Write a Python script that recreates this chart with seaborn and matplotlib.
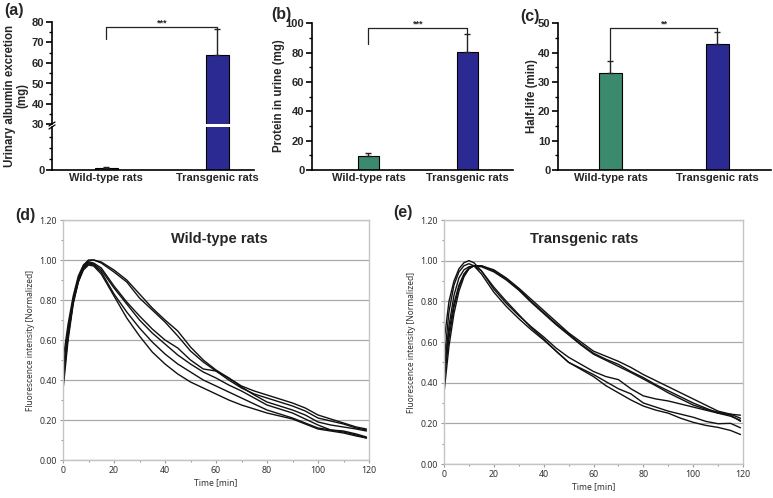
import numpy as np
import pandas as pd
import matplotlib
matplotlib.use("Agg")
import matplotlib.pyplot as plt
import seaborn as sns

# Bar chart data (a)-(c)
groups = ["Wild-type rats", "Transgenic rats"]
bar_colors = ["#3b8a6e", "#2b2a93"]

albumin_mean = [0.4, 64.0]
albumin_err = [0.2, 12.5]
protein_mean = [9.5, 80.7]
protein_err = [2.3, 11.8]
halflife_mean = [33.0, 43.0]
halflife_err = [4.3, 4.0]

# significance brackets: left leg, top, right leg, label
albumin_sig = [71.7, 77.5, 76.5, "***"]
protein_sig = [85.7, 96.6, 92.5, "***"]
halflife_sig = [37.5, 48.3, 47.0, "**"]

# Fluorescence curves (d), (e)
time_min = [0, 2, 4, 6, 8, 10, 12, 15, 20, 25, 30, 35, 40, 45, 50, 55, 60,
            65, 70, 75, 80, 85, 90, 95, 100, 105, 110, 115, 119]

wt_1 = [0.45, 0.66, 0.80, 0.91, 0.97, 0.995, 1.00, 0.99, 0.95, 0.90, 0.83, 0.76, 0.70, 0.645, 0.565,
        0.50, 0.45, 0.41, 0.37, 0.345, 0.325, 0.305, 0.285, 0.26, 0.225, 0.205, 0.185, 0.165, 0.155]
wt_2 = [0.50, 0.68, 0.82, 0.92, 0.975, 1.00, 1.00, 0.985, 0.94, 0.89, 0.81, 0.75, 0.69, 0.62, 0.545,
        0.49, 0.445, 0.40, 0.36, 0.33, 0.31, 0.29, 0.27, 0.245, 0.21, 0.195, 0.18, 0.16, 0.15]
wt_3 = [0.38, 0.62, 0.79, 0.90, 0.965, 0.99, 0.985, 0.96, 0.87, 0.79, 0.72, 0.655, 0.60, 0.56, 0.50,
        0.455, 0.445, 0.41, 0.365, 0.325, 0.29, 0.27, 0.25, 0.225, 0.19, 0.175, 0.165, 0.155, 0.145]
wt_4 = [0.35, 0.60, 0.78, 0.89, 0.96, 0.985, 0.98, 0.95, 0.86, 0.78, 0.70, 0.635, 0.58, 0.525, 0.48,
        0.44, 0.41, 0.375, 0.345, 0.31, 0.275, 0.255, 0.235, 0.205, 0.175, 0.15, 0.145, 0.13, 0.115]
wt_5 = [0.42, 0.63, 0.80, 0.90, 0.955, 0.98, 0.975, 0.94, 0.83, 0.74, 0.66, 0.59, 0.53, 0.48, 0.44,
        0.40, 0.37, 0.34, 0.31, 0.28, 0.25, 0.23, 0.21, 0.185, 0.16, 0.15, 0.14, 0.125, 0.11]
wt_6 = [0.40, 0.62, 0.79, 0.89, 0.95, 0.975, 0.97, 0.93, 0.82, 0.71, 0.62, 0.54, 0.48, 0.43, 0.39,
        0.36, 0.33, 0.30, 0.275, 0.255, 0.235, 0.22, 0.205, 0.18, 0.155, 0.145, 0.135, 0.12, 0.11]

tg_1 = [0.60, 0.80, 0.90, 0.96, 0.99, 1.00, 0.99, 0.95, 0.86, 0.79, 0.73, 0.675, 0.625, 0.57, 0.525,
        0.49, 0.455, 0.43, 0.415, 0.37, 0.335, 0.32, 0.31, 0.295, 0.28, 0.265, 0.25, 0.245, 0.24]
tg_2 = [0.50, 0.75, 0.88, 0.945, 0.975, 0.985, 0.975, 0.935, 0.845, 0.775, 0.715, 0.66, 0.61, 0.555, 0.50,
        0.47, 0.44, 0.405, 0.37, 0.345, 0.30, 0.28, 0.26, 0.245, 0.23, 0.21, 0.198, 0.20, 0.178]
tg_3 = [0.45, 0.68, 0.83, 0.915, 0.955, 0.97, 0.975, 0.95, 0.87, 0.80, 0.735, 0.67, 0.615, 0.555, 0.50,
        0.465, 0.43, 0.385, 0.35, 0.315, 0.285, 0.265, 0.25, 0.225, 0.205, 0.19, 0.18, 0.165, 0.145]
tg_4 = [0.35, 0.58, 0.74, 0.85, 0.92, 0.96, 0.975, 0.975, 0.955, 0.915, 0.865, 0.81, 0.755, 0.70, 0.645,
        0.60, 0.555, 0.53, 0.505, 0.475, 0.44, 0.41, 0.38, 0.35, 0.32, 0.29, 0.26, 0.245, 0.225]
tg_5 = [0.40, 0.62, 0.77, 0.87, 0.93, 0.96, 0.975, 0.975, 0.95, 0.91, 0.86, 0.80, 0.745, 0.69, 0.64,
        0.59, 0.545, 0.515, 0.49, 0.455, 0.425, 0.39, 0.36, 0.33, 0.30, 0.275, 0.25, 0.235, 0.215]
tg_6 = [0.45, 0.65, 0.79, 0.88, 0.935, 0.965, 0.975, 0.97, 0.945, 0.905, 0.855, 0.795, 0.74, 0.685, 0.635,
        0.585, 0.54, 0.51, 0.48, 0.45, 0.418, 0.385, 0.35, 0.32, 0.29, 0.27, 0.255, 0.24, 0.21]

wt_curves = [wt_1, wt_2, wt_3, wt_4, wt_5, wt_6]
tg_curves = [tg_1, tg_2, tg_3, tg_4, tg_5, tg_6]

sns.set_theme(style="white")
plt.rcParams["font.family"] = ["Liberation Sans", "DejaVu Sans"]

W, H = 773, 498
fig = plt.figure(figsize=(W / 100, H / 100), dpi=100)


def box(x0, y0, x1, y1):
    # pixel box (top-left origin) -> figure fraction rect
    return [x0 / W, 1 - y1 / H, (x1 - x0) / W, (y1 - y0) / H]


def draw_bars(ax, means, errs):
    df = pd.DataFrame({"group": groups, "value": means})
    sns.barplot(data=df, x="group", y="value", hue="group", palette=bar_colors,
                saturation=1, width=0.21, edgecolor="black", linewidth=0.8,
                errorbar=None, legend=False, ax=ax)
    ax.errorbar([0, 1], means, yerr=[[0, 0], errs], fmt="none", ecolor="#222222",
                elinewidth=1.0, capsize=2.5, capthick=1.0, zorder=1)


def style_bar_ax(ax):
    sns.despine(ax=ax)
    for s in ["left", "bottom"]:
        ax.spines[s].set_linewidth(1.2)
        ax.spines[s].set_color("black")
    ax.tick_params(axis="y", which="major", left=True, direction="out", length=4,
                   width=1.2, labelsize=8, pad=1.5, color="black")
    ax.tick_params(axis="y", which="minor", left=True, direction="out", length=2,
                   width=1.0, color="black")
    ax.tick_params(axis="x", length=0, labelsize=8, pad=2)
    ax.set_xlabel("")
    ax.set_ylabel("")


def bold_ticks(ax):
    for lab in ax.get_xticklabels() + ax.get_yticklabels():
        lab.set_fontweight("bold")


def bracket(ax, sig):
    y_left, y_top, y_right, label = sig
    ax.plot([0, 0, 1, 1], [y_left, y_top, y_top, y_right], color="#222222",
            lw=0.9, clip_on=False)
    ax.text(0.5, y_top, label, ha="center", va="bottom", fontsize=6.5,
            fontweight="bold", clip_on=False)


# (a) broken axis
ax_a_top = fig.add_axes(box(52, 22, 254, 124.5))
ax_a_bot = fig.add_axes(box(52, 126.5, 254, 170))
for ax in (ax_a_top, ax_a_bot):
    draw_bars(ax, albumin_mean, albumin_err)
    style_bar_ax(ax)
    ax.set_xlim(-0.49, 1.33)
ax_a_top.set_ylim(30, 80)
ax_a_top.set_yticks(range(30, 81, 10))
ax_a_top.set_yticks(range(35, 80, 10), minor=True)
ax_a_top.spines["bottom"].set_visible(False)
ax_a_top.set_xticks([])
ax_a_bot.set_ylim(0, 10)
ax_a_bot.set_yticks([0])
ax_a_bot.set_yticks([2.5, 5, 7.5], minor=True)
bold_ticks(ax_a_top)
bold_ticks(ax_a_bot)
bracket(ax_a_top, albumin_sig)
# break marks on the y axis
for dy in (-1.5, 1.5):
    fig.add_artist(plt.Line2D([49 / W, 55 / W], [1 - (125.5 + dy + 2) / H, 1 - (125.5 + dy - 2) / H],
                              color="black", lw=0.9))
fig.text(16 / W, 1 - 96 / H, "Urinary albumin excretion\n(mg)", rotation=90, ha="center",
         va="center", fontsize=8.3, fontweight="bold", linespacing=1.05)

# (b)
ax_b = fig.add_axes(box(312, 23.3, 513, 170))
draw_bars(ax_b, protein_mean, protein_err)
ax_b.set_ylim(0, 100)
ax_b.set_xlim(-0.57, 1.46)
ax_b.set_yticks(range(0, 101, 20))
ax_b.set_yticks(range(10, 100, 20), minor=True)
style_bar_ax(ax_b)
bold_ticks(ax_b)
bracket(ax_b, protein_sig)
fig.text(279 / W, 1 - 96 / H, "Protein in urine (mg)", rotation=90, ha="center",
         va="center", fontsize=8.3, fontweight="bold")

# (c)
ax_c = fig.add_axes(box(558, 23.3, 771, 170))
draw_bars(ax_c, halflife_mean, halflife_err)
ax_c.set_ylim(0, 50)
ax_c.set_xlim(-0.49, 1.5)
ax_c.set_yticks(range(0, 51, 10))
ax_c.set_yticks(range(5, 50, 10), minor=True)
style_bar_ax(ax_c)
bold_ticks(ax_c)
bracket(ax_c, halflife_sig)
fig.text(532 / W, 1 - 96 / H, "Half-life (min)", rotation=90, ha="center",
         va="center", fontsize=8.3, fontweight="bold")


def draw_curves(ax, curves, title, title_x):
    rows = []
    for i, c in enumerate(curves):
        for t, v in zip(time_min, c):
            rows.append({"rat": i, "time": t, "value": v})
    df = pd.DataFrame(rows)
    sns.lineplot(data=df, x="time", y="value", units="rat", estimator=None,
                 color="#111111", lw=1.0, ax=ax)
    ax.set_xlim(0, 120)
    ax.set_ylim(0, 1.2)
    ax.set_xticks(range(0, 121, 20))
    ax.set_xticks(range(10, 120, 20), minor=True)
    ax.set_yticks(np.arange(0, 1.21, 0.2))
    ax.set_yticks(np.arange(0.1, 1.2, 0.2), minor=True)
    ax.set_yticklabels([f"{v:.2f}" for v in np.arange(0, 1.21, 0.2)])
    ax.grid(axis="y", which="major", color="#a8a8a8", lw=0.9)
    ax.set_axisbelow(True)
    for s in ax.spines.values():
        s.set_color("#c4c4c4")
        s.set_linewidth(1.0)
    ax.tick_params(axis="both", which="major", direction="out", length=2.5, width=0.8,
                   color="#9a9a9a", labelsize=6.4, labelcolor="#333333", pad=2,
                   left=True, bottom=True)
    ax.tick_params(axis="both", which="minor", direction="out", length=1.5, width=0.8,
                   color="#9a9a9a", left=True, bottom=True)
    for lab in ax.get_xticklabels() + ax.get_yticklabels():
        lab.set_family(["Noto Sans", "DejaVu Sans"])
    ax.set_xlabel("Time [min]", fontsize=6.2, color="#333333", family=["Noto Sans", "DejaVu Sans"],
                  labelpad=2)
    ax.set_ylabel("Fluorescence intensity [Normalized]", fontsize=6.0, color="#333333",
                  family=["Noto Sans", "DejaVu Sans"], labelpad=3)
    ax.text(title_x, 0.95, title, transform=ax.transAxes, ha="center", va="top",
            fontsize=10.5, fontweight="bold")


ax_d = fig.add_axes(box(63, 220, 369, 460))
draw_curves(ax_d, wt_curves, "Wild-type rats", 0.51)
ax_e = fig.add_axes(box(444, 220, 743, 464))
draw_curves(ax_e, tg_curves, "Transgenic rats", 0.47)

# panel letters
for x, y, s in [(14, 11, "(a)"), (281, 14, "(b)"), (530, 17, "(c)"), (25, 215, "(d)"), (403, 212, "(e)")]:
    fig.text(x / W, 1 - y / H, s, ha="center", va="center", fontsize=11.5, fontweight="bold")

fig.savefig("out.png", dpi=100)
